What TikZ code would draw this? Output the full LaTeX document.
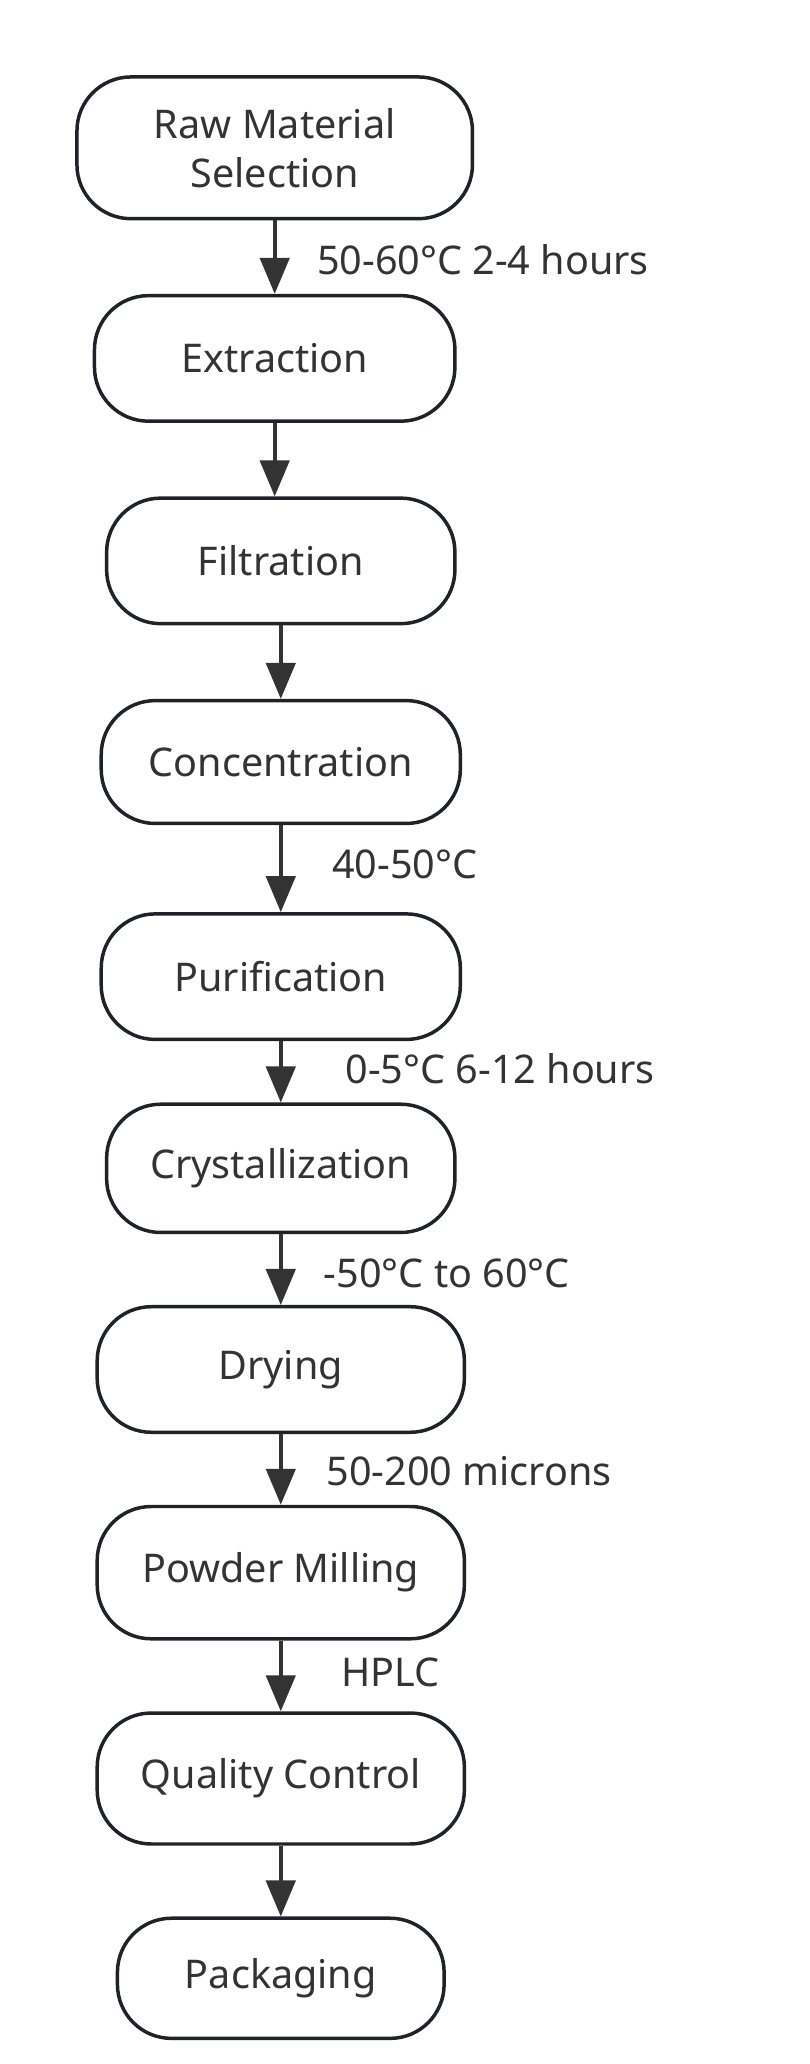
\documentclass[tikz,border=0pt]{standalone}
\usepackage{fontspec}
\setmainfont{Noto Sans}
\usetikzlibrary{arrows.meta}
\definecolor{edgecol}{HTML}{333333}
\definecolor{boxline}{HTML}{1F2329}
\begin{document}
\begin{tikzpicture}[x=0.03cm, y=-0.03cm,
                    stage/.style={draw=boxline, line width=2.2pt, rounded corners=1.2cm,
                                 align=center, inner sep=0pt, text=black!80},
                    flow/.style={draw=edgecol, line width=2.4pt, -{Triangle[length=0.8cm, width=0.65cm]}},
                    note/.style={anchor=west, text=black!80}]
    \useasboundingbox (0,0) rectangle (600,1529);
    \fontsize{25}{31}\selectfont
    \node[stage, minimum width=8.79cm, minimum height=3.15cm] (raw) at (203.5,109.5) {Raw Material\\Selection};
    \node[stage, minimum width=8.01cm, minimum height=2.79cm] (extract) at (203.5,265.5) {Extraction};
    \node[stage, minimum width=7.74cm, minimum height=2.79cm] (filter) at (208,415.5) {Filtration};
    \node[stage, minimum width=7.98cm, minimum height=2.73cm] (concen) at (208,564.5) {Concentration};
    \node[stage, minimum width=7.98cm, minimum height=2.79cm] (purify) at (208,723.5) {Purification};
    \node[stage, minimum width=7.74cm, minimum height=2.85cm] (crystal) at (208,865.5) {Crystallization};
    \node[stage, minimum width=8.16cm, minimum height=2.79cm] (dry) at (208,1014.5) {Drying};
    \node[stage, minimum width=8.16cm, minimum height=2.94cm] (mill) at (208,1165) {Powder Milling};
    \node[stage, minimum width=8.16cm, minimum height=2.91cm] (qc) at (208,1317.5) {Quality Control};
    \node[stage, minimum width=7.26cm, minimum height=2.67cm] (pack) at (208,1465.5) {Packaging};
    % connectors
    \draw[flow] (raw.south) -- (extract.north);
    \draw[flow] (extract.south) -- (extract.south |- filter.north);
    \foreach \a/\b in {filter/concen, concen/purify, purify/crystal, crystal/dry, dry/mill, mill/qc, qc/pack}
        \draw[flow] (\a.south) -- (\b.north);
    % labels
    \node[note] (l1) at (225,192) {50-60°C 2-4 hours};
    \node[note] (l2) at (236,640) {40-50°C};
    \node[note] (l3) at (246,792) {0-5°C 6-12 hours};
    \node[note] (l4) at (230,943) {-50°C to 60°C};
    \node[note] (l5) at (232,1090) {50-200 microns};
    \node[note] (l6) at (243,1239) {HPLC};
\end{tikzpicture}
\end{document}
